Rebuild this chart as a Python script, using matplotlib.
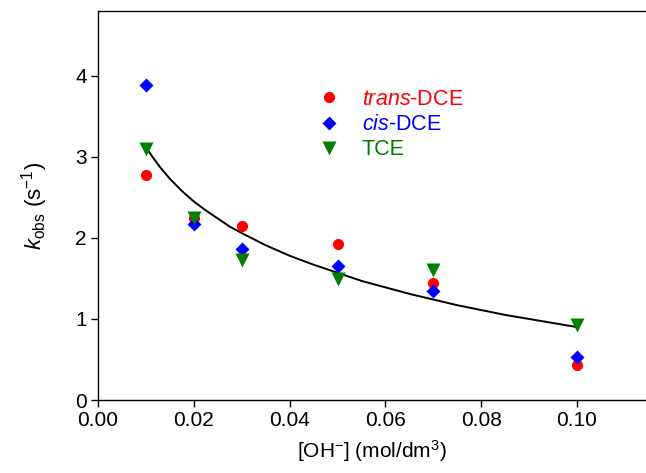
import numpy as np
import matplotlib
matplotlib.use("Agg")
import matplotlib.pyplot as plt

plt.rcParams['font.family'] = ['Liberation Sans', 'DejaVu Sans']
plt.rcParams['mathtext.fontset'] = 'custom'
plt.rcParams['mathtext.rm'] = 'Liberation Sans'
plt.rcParams['mathtext.it'] = 'Liberation Sans:italic'

# [OH-] concentrations (mol/dm3)
oh = [0.01, 0.02, 0.03, 0.05, 0.07, 0.10]

# observed rate constants (s^-1)
k_trans = [2.78, 2.25, 2.15, 1.92, 1.45, 0.43]
k_cis = [3.89, 2.17, 1.86, 1.65, 1.35, 0.53]
k_tce = [3.10, 2.25, 1.73, 1.49, 1.60, 0.92]

# fitted curve
fit_x = [0.010, 0.0115, 0.013, 0.015, 0.0175, 0.020, 0.0225, 0.025, 0.0275,
         0.030, 0.035, 0.040, 0.045, 0.050, 0.055, 0.060, 0.065, 0.070,
         0.075, 0.080, 0.085, 0.090, 0.095, 0.100]
fit_y = [3.12, 2.99, 2.87, 2.73, 2.58, 2.45, 2.34, 2.24, 2.14,
         2.06, 1.91, 1.78, 1.67, 1.57, 1.47, 1.39, 1.31, 1.24,
         1.17, 1.11, 1.05, 1.00, 0.95, 0.90]

fig = plt.figure(figsize=(6.46, 4.73), dpi=100)
ax = fig.add_axes([0.1517, 0.1543, 0.8483, 0.8224])

ax.plot(fit_x, fit_y, color='black', lw=1.4, zorder=1)
ax.plot(oh, k_trans, 'o', color='red', ms=8, mec='none', label=r'$\it{trans}$-DCE', zorder=3)
ax.plot(oh, k_cis, 'D', color='blue', ms=7.5, mec='none', label=r'$\it{cis}$-DCE', zorder=3)
ax.plot(oh, k_tce, 'v', color='green', ms=9.5, mec='none', label='TCE', zorder=3)

ax.set_xlim(0, 0.1144)
ax.set_ylim(0, 4.8)
ax.set_xticks([0.00, 0.02, 0.04, 0.06, 0.08, 0.10])
ax.set_xticklabels(['0.00', '0.02', '0.04', '0.06', '0.08', '0.10'])
ax.set_yticks([0, 1, 2, 3, 4])
ax.tick_params(direction='out', length=5, width=1, labelsize=15, pad=3)
ax.spines['right'].set_visible(False)
for s in ['left', 'bottom', 'top']:
    ax.spines[s].set_linewidth(1)

ax.set_xlabel(r'[OH$^{-}$] (mol/dm$^{3}$)', fontsize=15, labelpad=6)
ax.set_ylabel(r'$k_{\mathrm{obs}}$ (s$^{-1}$)', fontsize=16, labelpad=18)

leg = ax.legend(loc='upper left', bbox_to_anchor=(0.347, 0.85), frameon=False,
                fontsize=15.5, handletextpad=0.53, labelspacing=0.2,
                borderpad=0.4, labelcolor='markerfacecolor')

fig.savefig('out.png', dpi=100)
